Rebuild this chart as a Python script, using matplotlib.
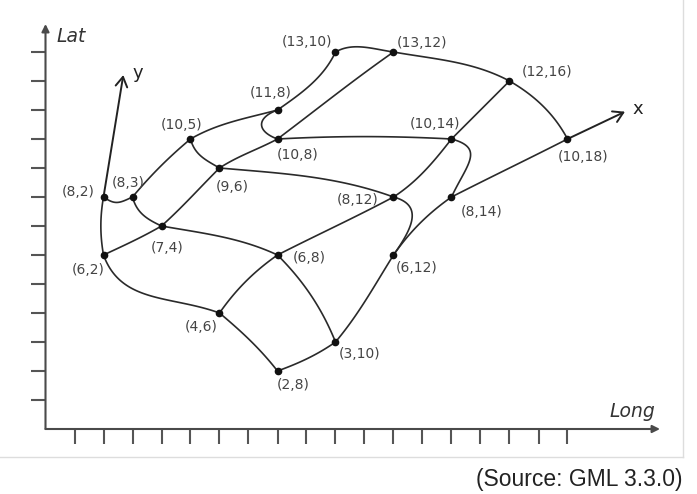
import numpy as np
import matplotlib
matplotlib.use("Agg")
import matplotlib.pyplot as plt
from matplotlib.lines import Line2D

# ---------------- data ----------------
# grid nodes, labelled (Lat, Long); stored row by row (4 rows x 5 columns)
node_names = ["(8,2)", "(8,3)", "(10,5)", "(11,8)", "(13,10)",
              "(6,2)", "(7,4)", "(9,6)", "(10,8)", "(13,12)",
              "(4,6)", "(6,8)", "(8,12)", "(10,14)", "(12,16)",
              "(2,8)", "(3,10)", "(6,12)", "(8,14)", "(10,18)"]
node_lat = [8, 8, 10, 11, 13,
            6, 7, 9, 10, 13,
            4, 6, 8, 10, 12,
            2, 3, 6, 8, 10]
node_long = [2, 3, 5, 8, 10,
             2, 4, 6, 8, 12,
             6, 8, 12, 14, 16,
             8, 10, 12, 14, 18]
lat_ticks = list(range(1, 14))
long_ticks = list(range(1, 19))

# ---------------- shape / style ----------------
# curve segments: (from node, to node, start angle, end angle, handle factor)
segments = [
    # x-direction grid lines (rows)
    (0, 1, -35, 25, 0.5), (1, 2, 50, 40, 0.35), (2, 3, 30, 15, 0.35), (3, 4, 35, 65, 0.35),
    (5, 6, 25, 30, 0.35), (6, 7, 42, 45, 0.35), (7, 8, 33, 28, 0.35), (8, 9, 37, 35, 0.35),
    (10, 11, 55, 35, 0.35), (11, 12, 27, 28, 0.35), (12, 13, 33, 52, 0.35), (13, 14, 45, 45, 0.35),
    (15, 16, 20, 35, 0.35), (16, 17, 50, 58, 0.35), (17, 18, 55, 35, 0.35), (18, 19, 27, 27, 0.35),
    # y-direction grid lines (columns)
    (15, 10, 128, 140, 0.35), (10, 5, 160, 110, 0.4), (5, 0, 100, 80, 0.35),
    (16, 11, 112, 135, 0.35), (11, 6, 155, 170, 0.35), (6, 1, 155, 105, 0.4),
    (17, 12, 55, 165, 0.55), (12, 7, 160, 175, 0.35), (7, 2, 150, 105, 0.4),
    (18, 13, 65, 165, 0.61), (13, 8, 177, 183, 0.35), (8, 3, 160, 20, 0.78),
    (19, 14, 118, 150, 0.35), (14, 9, 152, 170, 0.35), (9, 4, 172, 210, 0.35),
]
# label offsets in pixels (right, up)
label_off = [(-25, 5), (-4, 14), (-9, 14), (-7, 17), (-28, 10),
             (-15, -15), (6, -22), (13, -19), (20, -16), (29, 9),
             (-18, -14), (32, -3), (-36, -3), (-16, 15), (38, 9),
             (16, -14), (24, -12), (23, -13), (30, -15), (16, -18)]

W, H, DPI = 697, 494, 100
OX, OY, S = 45.5, 429.0, 29.0   # pixel origin and pixels per unit


def bez(p0, p3, a0, a1, k):
    p0 = np.asarray(p0, float)
    p3 = np.asarray(p3, float)
    L = np.hypot(*(p3 - p0))
    p1 = p0 + k * L * np.array([np.cos(np.radians(a0)), np.sin(np.radians(a0))])
    p2 = p3 - k * L * np.array([np.cos(np.radians(a1)), np.sin(np.radians(a1))])
    t = np.linspace(0, 1, 80)[:, None]
    pts = ((1 - t) ** 3) * p0 + 3 * ((1 - t) ** 2) * t * p1 + 3 * (1 - t) * t ** 2 * p2 + t ** 3 * p3
    return pts[:, 0], pts[:, 1]


fig = plt.figure(figsize=(W / DPI, H / DPI), dpi=DPI)
ax = fig.add_axes([0, 0, 1, 1])
ax.set_xlim(-OX / S, (W - OX) / S)
ax.set_ylim((OY - H) / S, OY / S)
ax.axis("off")

axis_col = "#4a4a4a"
line_col = "#2a2a2a"

# main axes (Long horizontal, Lat vertical)
x_end = (660 - OX) / S
y_end = (OY - 24) / S
ax.annotate("", xy=(x_end, 0), xytext=(0, 0),
            arrowprops=dict(arrowstyle="-|>", mutation_scale=11, lw=1.5,
                            color=axis_col, shrinkA=0, shrinkB=0))
ax.annotate("", xy=(0, y_end), xytext=(0, 0),
            arrowprops=dict(arrowstyle="-|>", mutation_scale=11, lw=1.5,
                            color=axis_col, shrinkA=0, shrinkB=0))
tl = 15 / S
for xt in long_ticks:
    ax.plot([xt, xt], [0, -tl], color="#555555", lw=1.5, solid_capstyle="butt")
for yt in lat_ticks:
    ax.plot([0, -tl], [yt, yt], color="#555555", lw=1.5, solid_capstyle="butt")

ax.text(0.39, 13.36, "Lat", fontsize=13.5, fontstyle="italic", color="#333333",
        ha="left", va="baseline", family="DejaVu Sans")
ax.text(21.02, 0.41, "Long", fontsize=13.5, fontstyle="italic", color="#333333",
        ha="right", va="baseline", family="DejaVu Sans")

# grid curves
for i, j, a0, a1, k in segments:
    xs, ys = bez((node_long[i], node_lat[i]), (node_long[j], node_lat[j]), a0, a1, k)
    ax.plot(xs, ys, color=line_col, lw=1.2, solid_capstyle="round")

# grid axes arrows (y from node (8,2), x from node (10,18))
y_tip = ((123.3 - OX) / S, (OY - 75) / S)
x_tip = ((625 - OX) / S, (OY - 111.7) / S)
ax.annotate("", xy=y_tip, xytext=(node_long[0], node_lat[0]),
            arrowprops=dict(arrowstyle="->,head_length=0.5,head_width=0.3", mutation_scale=14,
                            lw=1.4, color="#222222", shrinkA=0, shrinkB=0))
ax.annotate("", xy=x_tip, xytext=(node_long[19], node_lat[19]),
            arrowprops=dict(arrowstyle="->,head_length=0.5,head_width=0.3", mutation_scale=14,
                            lw=1.4, color="#222222", shrinkA=0, shrinkB=0))
ax.text((138 - OX) / S, (OY - 73) / S, "y", fontsize=13, color="#222222", ha="center", va="center")
ax.text((638 - OX) / S, (OY - 109) / S, "x", fontsize=13, color="#222222", ha="center", va="center")

# nodes and labels
ax.plot(node_long, node_lat, "o", ms=4.5, color="#111111", zorder=5)
for name, lo, la, (dx, dy) in zip(node_names, node_long, node_lat, label_off):
    ax.annotate(name, xy=(lo, la), xytext=(dx, dy), textcoords="offset pixels",
                ha="center", va="center", fontsize=10, color="#444444",
                family="DejaVu Sans")

# light frame and source note
fx = 683 / W
fy = 1 - 457 / H
fig.add_artist(Line2D([fx, fx], [fy, 1.0], transform=fig.transFigure, color="#dddddd", lw=1))
fig.add_artist(Line2D([0, fx], [fy, fy], transform=fig.transFigure, color="#dddddd", lw=1))
fig.text(682 / W, 1 - 479 / H, "(Source: GML 3.3.0)", ha="right", va="center",
         fontsize=16.5, family="Liberation Sans", color="#222222")

fig.savefig("out.png", dpi=DPI)
